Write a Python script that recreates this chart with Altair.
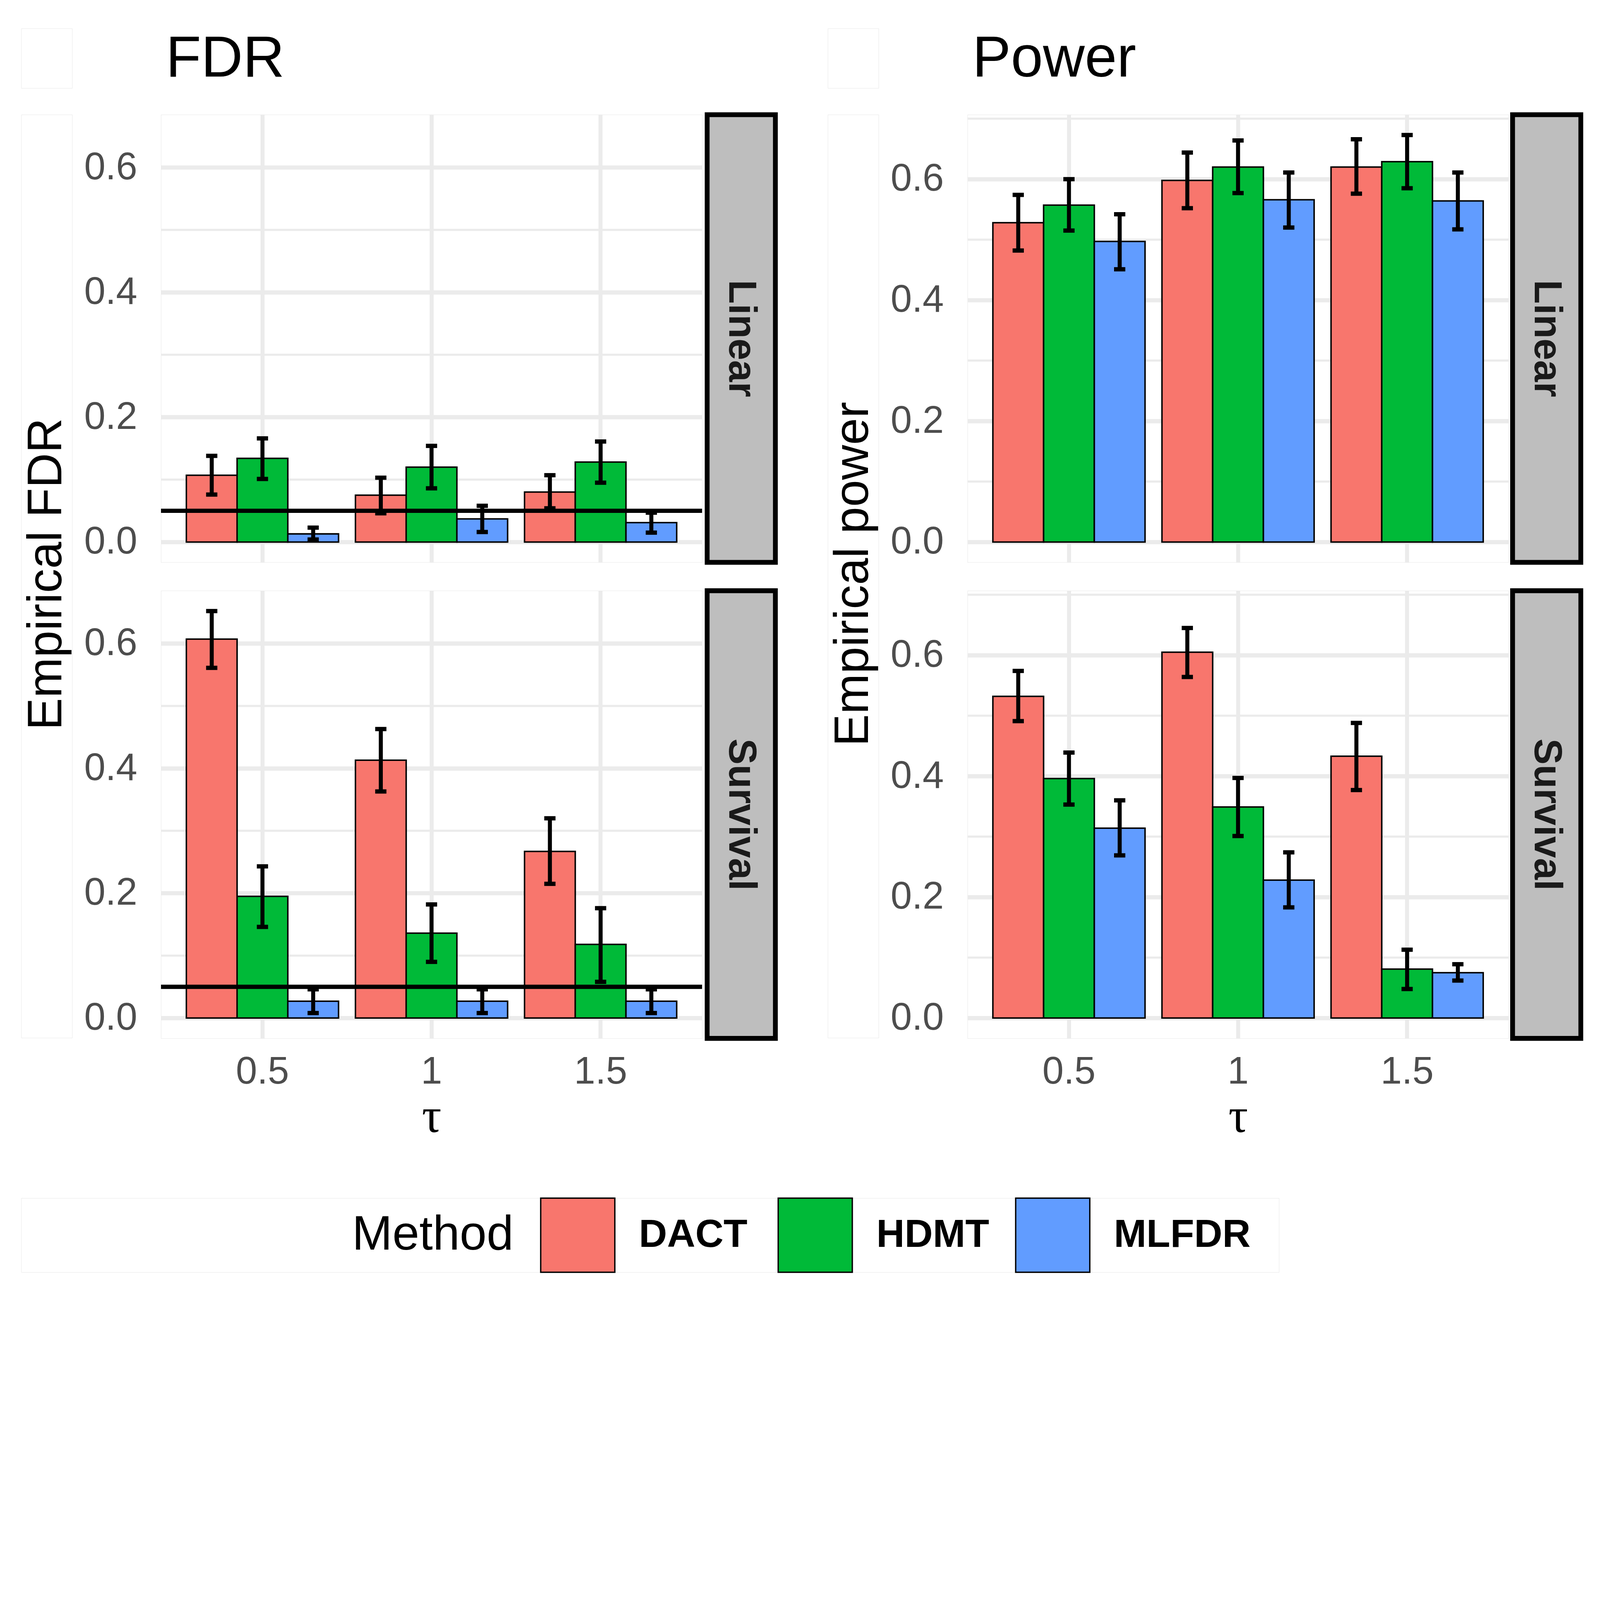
import altair as alt
import pandas as pd

# ---------------- data ----------------
methods = ["DACT", "HDMT", "MLFDR"]
taus = ["0.5", "1", "1.5"]
models = ["Linear", "Survival"]
method_colors = ["#F8766D", "#00BA38", "#619CFF"]

# values ordered tau 0.5 (DACT, HDMT, MLFDR), tau 1 (...), tau 1.5 (...)
fdr_linear_est = [0.107, 0.134, 0.013, 0.075, 0.120, 0.037, 0.080, 0.128, 0.031]
fdr_linear_lo = [0.076, 0.101, 0.004, 0.046, 0.086, 0.016, 0.054, 0.095, 0.015]
fdr_linear_hi = [0.138, 0.166, 0.023, 0.103, 0.154, 0.058, 0.107, 0.161, 0.047]

fdr_survival_est = [0.607, 0.195, 0.027, 0.413, 0.136, 0.027, 0.267, 0.118, 0.027]
fdr_survival_lo = [0.561, 0.146, 0.008, 0.363, 0.090, 0.008, 0.215, 0.058, 0.008]
fdr_survival_hi = [0.652, 0.243, 0.046, 0.463, 0.182, 0.046, 0.320, 0.176, 0.046]

power_linear_est = [0.528, 0.557, 0.497, 0.598, 0.620, 0.566, 0.620, 0.629, 0.564]
power_linear_lo = [0.482, 0.515, 0.451, 0.552, 0.577, 0.520, 0.576, 0.585, 0.517]
power_linear_hi = [0.574, 0.600, 0.542, 0.644, 0.664, 0.611, 0.666, 0.673, 0.611]

power_survival_est = [0.532, 0.396, 0.314, 0.605, 0.349, 0.228, 0.433, 0.081, 0.075]
power_survival_lo = [0.491, 0.353, 0.269, 0.564, 0.301, 0.183, 0.377, 0.048, 0.062]
power_survival_hi = [0.574, 0.439, 0.360, 0.645, 0.397, 0.274, 0.488, 0.113, 0.089]

fdr_level = [0.05]
major_breaks = [0.0, 0.2, 0.4, 0.6]
minor_breaks = [0.1, 0.3, 0.5, 0.7]

# ---------------- style ----------------
PW, PH = 2022, 1673          # panel size
SW = 255                      # strip width
KEY = 277                     # legend key size
GRID = "#EBEBEB"
FONT = "Liberation Sans"
TICK_FS = 143

color_scale = alt.Scale(domain=methods, range=method_colors)
color_enc = alt.Color("method:N", sort=methods, scale=color_scale, legend=None)


def frame(est, lo, hi):
    return pd.DataFrame({
        "tau": [t for t in taus for _ in methods],
        "method": methods * len(taus),
        "est": est, "lo": lo, "hi": hi,
    })


def make_panel(d, domain, show_x, hline):
    ys = alt.Scale(domain=domain, nice=False, zero=False)
    yax = alt.Axis(values=major_breaks, format=".1f", title=None, ticks=False,
                   domain=False, grid=True, gridColor=GRID, gridWidth=16,
                   labelFontSize=TICK_FS, labelColor="#4D4D4D", labelPadding=89,
                   labelFont=FONT, labelLimit=0)
    if show_x:
        xax = alt.Axis(title="τ", labels=True, ticks=False, domain=False, grid=True,
                       gridColor=GRID, gridWidth=15, bandPosition=0.5,
                       labelFontSize=TICK_FS, labelColor="#4D4D4D", labelPadding=55,
                       labelAngle=0, labelFont=FONT, labelLimit=0,
                       titleFont="Liberation Serif", titleFontSize=182,
                       titleFontWeight="normal", titleColor="black", titlePadding=9)
    else:
        xax = alt.Axis(title=None, labels=False, ticks=False, domain=False, grid=True,
                       gridColor=GRID, gridWidth=15, bandPosition=0.5)
    X = alt.X("tau:N", sort=taus,
              scale=alt.Scale(paddingInner=0.1, paddingOuter=0.15), axis=xax)
    XO = alt.XOffset("method:N", sort=methods,
                     scale=alt.Scale(paddingInner=0, paddingOuter=0))

    minor_vals = [m for m in minor_breaks if domain[0] <= m <= domain[1]]
    minor = alt.Chart(pd.DataFrame({"v": minor_vals})).mark_rule(
        color=GRID, strokeWidth=8).encode(y=alt.Y("v:Q", scale=ys, axis=yax))
    bars = alt.Chart(d).mark_bar(stroke="black", strokeWidth=5.5, opacity=1).encode(
        x=X, xOffset=XO, y=alt.Y("est:Q", scale=ys, axis=yax), color=color_enc)
    err = alt.Chart(d).mark_rule(color="black", strokeWidth=15).encode(
        x=X, xOffset=XO, y=alt.Y("lo:Q", scale=ys, axis=yax), y2="hi:Q")
    cap_hi = alt.Chart(d).mark_tick(color="black", orient="horizontal", size=42,
                                    thickness=16, opacity=1).encode(
        x=X, xOffset=XO, y=alt.Y("hi:Q", scale=ys, axis=yax))
    cap_lo = alt.Chart(d).mark_tick(color="black", orient="horizontal", size=42,
                                    thickness=16, opacity=1).encode(
        x=X, xOffset=XO, y=alt.Y("lo:Q", scale=ys, axis=yax))
    layers = [minor, bars, err, cap_hi, cap_lo]
    if hline:
        layers.append(alt.Chart(pd.DataFrame({"h": fdr_level})).mark_rule(
            color="black", strokeWidth=16).encode(y=alt.Y("h:Q", scale=ys, axis=yax)))
    return alt.layer(*layers).properties(width=PW, height=PH)


def make_strip(label):
    s = pd.DataFrame({"lab": [label]})
    rect = alt.Chart(s).mark_rect(fill="#BEBEBE", stroke="black", strokeWidth=18).encode(
        x=alt.value(0), x2=alt.value(SW), y=alt.value(0), y2=alt.value(PH))
    txt = alt.Chart(s).mark_text(angle=90, fontSize=146, fontWeight="bold",
                                 color="#1A1A1A", baseline="middle", align="center",
                                 font=FONT).encode(
        text="lab:N", x=alt.value(SW / 2), y=alt.value(PH / 2))
    return alt.layer(rect, txt).properties(width=SW, height=PH)


def make_ytitle(text):
    s = pd.DataFrame({"t": [text]})
    return alt.Chart(s).mark_text(angle=270, fontSize=181, baseline="alphabetic",
                                  align="center", color="black", font=FONT).encode(
        text="t:N", x=alt.value(150), y=alt.value(1717)).properties(width=190, height=2 * PH + 104)


def make_title(text):
    s = pd.DataFrame({"t": [text]})
    return alt.Chart(s).mark_text(fontSize=216, baseline="alphabetic", align="left",
                                  color="black", font=FONT).encode(
        text="t:N", x=alt.value(540), y=alt.value(180)).properties(width=190, height=223)


def make_column(title, ytitle, d_lin, d_surv, hline):
    allhi = list(d_lin["hi"]) + list(d_surv["hi"])
    ymax = max(allhi)
    domain = [-0.05 * ymax, 1.05 * ymax]
    top = alt.hconcat(make_panel(d_lin, domain, False, hline), make_strip(models[0]), spacing=0)
    bot = alt.hconcat(make_panel(d_surv, domain, True, hline), make_strip(models[1]), spacing=0)
    inner = alt.vconcat(top, bot, spacing=86)
    body = alt.hconcat(make_ytitle(ytitle), inner, spacing=42)
    return alt.vconcat(make_title(title), body, spacing=88)


def make_legend():
    ld = pd.DataFrame({"method": methods})
    band = alt.Scale(domain=methods, range=[1941, 3993], paddingInner=0.6879, paddingOuter=0)
    keys = alt.Chart(ld).mark_rect(stroke="black", strokeWidth=5).encode(
        x=alt.X("method:N", sort=methods, scale=band, axis=None),
        y=alt.value(0), y2=alt.value(KEY), color=color_enc)
    labels = alt.Chart(ld).mark_text(align="left", baseline="middle", fontSize=146,
                                     fontWeight="bold", dx=367, color="black",
                                     font=FONT).encode(
        x=alt.X("method:N", sort=methods, scale=band, axis=None, bandPosition=0),
        y=alt.value(KEY / 2), text="method:N")
    ttl = alt.Chart(pd.DataFrame({"t": ["Method"]})).mark_text(
        align="left", baseline="middle", fontSize=181, color="black", font=FONT).encode(
        x=alt.value(1236), y=alt.value(KEY / 2), text="t:N")
    return alt.layer(keys, labels, ttl).properties(width=4700, height=KEY)


col_fdr = make_column("FDR", "Empirical FDR",
                      frame(fdr_linear_est, fdr_linear_lo, fdr_linear_hi),
                      frame(fdr_survival_est, fdr_survival_lo, fdr_survival_hi), True)
col_pow = make_column("Power", "Empirical power",
                      frame(power_linear_est, power_linear_lo, power_linear_hi),
                      frame(power_survival_est, power_survival_lo, power_survival_hi), False)

panels = alt.hconcat(col_fdr, col_pow, spacing=185)
chart = alt.vconcat(panels, make_legend(), spacing=207).resolve_scale(color="shared").properties(
    padding={"left": 67, "top": -797, "right": 50, "bottom": 20}
).configure_view(stroke="transparent", strokeWidth=0).configure(font=FONT, background="white")

chart.save("out.html", embed_options={"renderer": "svg", "actions": False})
